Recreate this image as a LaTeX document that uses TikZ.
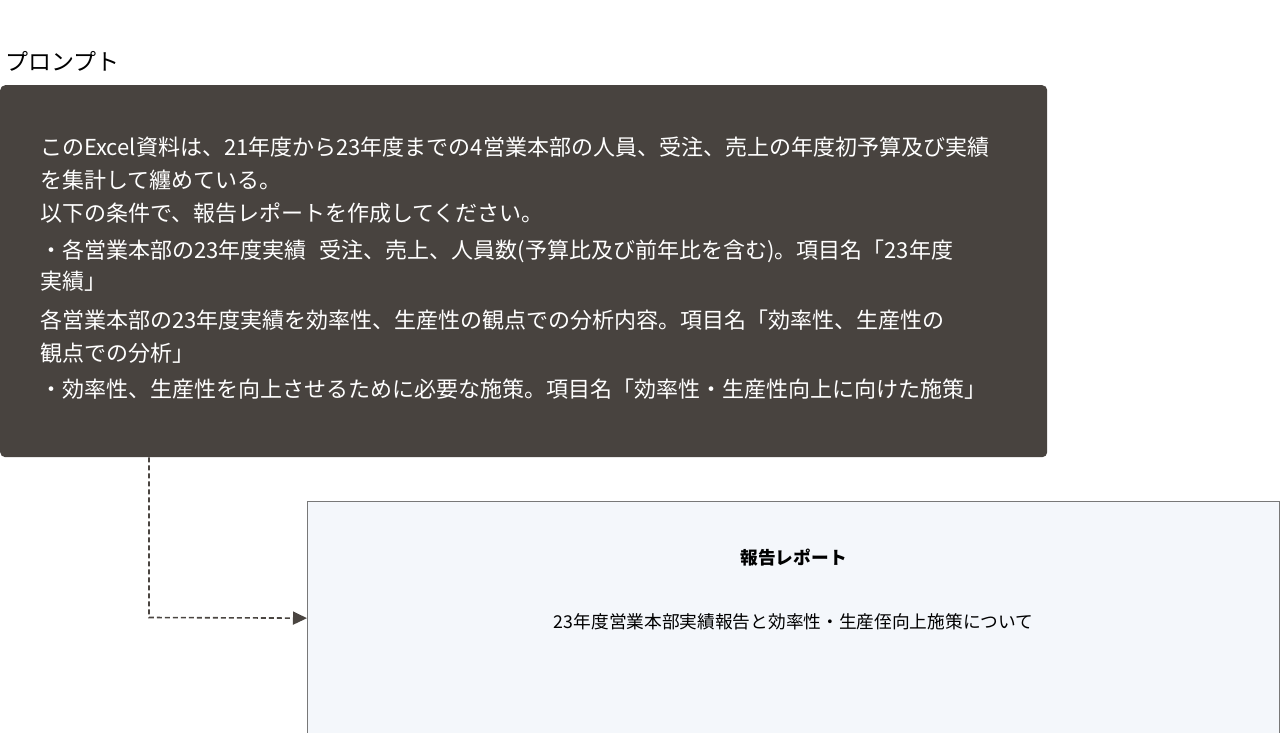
\documentclass[tikz,border=0pt]{standalone}
\usepackage{fontspec}
\setmainfont{Noto Sans CJK JP}
\usepackage{xcolor}
\usetikzlibrary{positioning,arrows.meta}

\definecolor{promptbg}{HTML}{48433F}
\definecolor{reportbg}{HTML}{F4F7FB}
\definecolor{reportline}{HTML}{787878}
\definecolor{linkcol}{HTML}{4A4541}

\begin{document}
\begin{tikzpicture}[x=1pt,y=-1pt]
		\useasboundingbox (0,0) rectangle (1280,733);
		% heading and prompt box
		\node[anchor=west,inner sep=0pt,font=\fontsize{23}{27}\selectfont] (head) at (5,61) {プロンプト};
		\node[anchor=north west,fill=promptbg,rounded corners=5pt,minimum width=1047pt,minimum height=372pt,inner sep=0pt] (prompt) at (0,85) {};
		\foreach \yy/\txt in {155.5/{このExcel資料は、21年度から23年度までの4営業本部の人員、受注、売上の年度初予算及び実績},
				188.5/{を集計して纏めている。},
				221.5/{以下の条件で、報告レポートを作成してください。},
				258.5/{・各営業本部の23年度実績\hspace{0.6em}受注、売上、人員数(予算比及び前年比を含む)。項目名「23年度},
				289.5/{実績」},
				328.5/{各営業本部の23年度実績を効率性、生産性の観点での分析内容。項目名「効率性、生産性の},
				361.5/{観点での分析」},
				397.5/{・効率性、生産性を向上させるために必要な施策。項目名「効率性・生産性向上に向けた施策」}}
			\node[anchor=base west,inner sep=0pt,text=white,font=\fontsize{22}{26}\selectfont] at (40,\yy) {\txt};
		% report box
		\node[anchor=north west,fill=reportbg,draw=reportline,line width=1.3pt,minimum width=972pt,minimum height=233pt,inner sep=0pt] (report) at (307,501) {};
		\node[below=57pt of report.north,anchor=center,font=\fontsize{17.7}{21}\selectfont\bfseries] (title) {報告レポート};
		\node[below=121pt of report.north,anchor=center,font=\fontsize{17.7}{21}\selectfont] (subtitle) {23年度営業本部実績報告と効率性・生産侄向上施策について};
		% dashed link
		\coordinate (turn) at (149,617.5);
		\draw[linkcol,line width=1.6pt,dash pattern=on 5pt off 3pt,-{Triangle[length=14pt,width=13pt]}] (prompt.south -| turn) -- (turn) -- (report.west);
	\end{tikzpicture}
\end{document}
